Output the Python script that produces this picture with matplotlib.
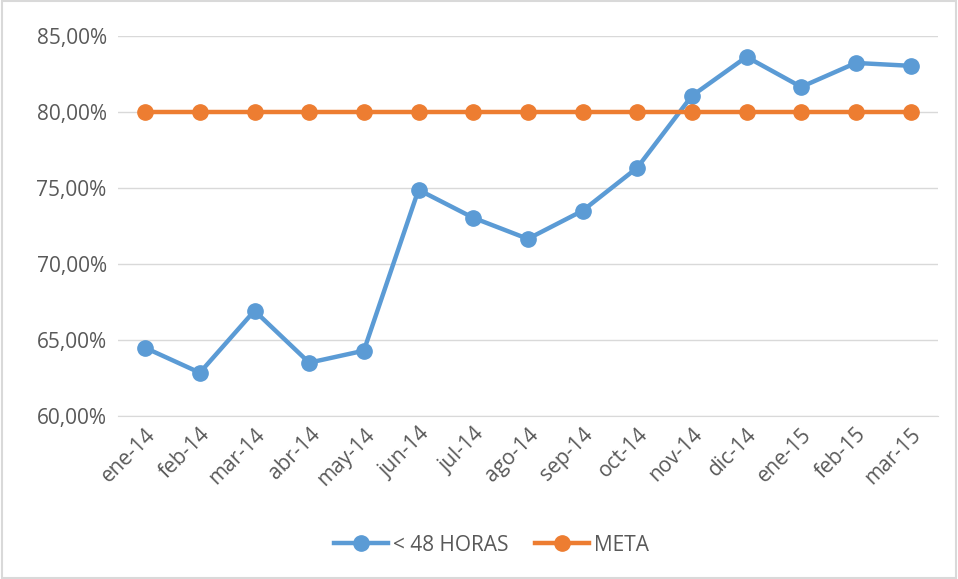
import numpy as np
import matplotlib.pyplot as plt
from matplotlib.ticker import FuncFormatter

plt.rcParams['font.family'] = ['Open Sans', 'DejaVu Sans']

# Datos
meses = ["ene-14", "feb-14", "mar-14", "abr-14", "may-14", "jun-14", "jul-14",
         "ago-14", "sep-14", "oct-14", "nov-14", "dic-14", "ene-15", "feb-15", "mar-15"]
menos_48h = [64.47, 62.83, 66.91, 63.49, 64.28, 74.87, 73.03, 71.64, 73.49,
             76.32, 81.05, 83.62, 81.64, 83.22, 83.03]
meta = [80.0] * len(meses)

azul = "#5b9bd5"
naranja = "#ed7d31"
gris_texto = "#595959"

fig = plt.figure(figsize=(9.58, 5.79), dpi=100)
ax = fig.add_axes([0.123, 0.282, 0.856, 0.656])

x = np.arange(len(meses))
ax.plot(x, menos_48h, color=azul, lw=3.2, marker="o", ms=11, label="< 48 HORAS", zorder=3)
ax.plot(x, meta, color=naranja, lw=3.2, marker="o", ms=11, label="META", zorder=3)

ax.set_xlim(-0.5, len(meses) - 0.5)
ax.set_ylim(60, 85)
ax.set_yticks(np.arange(60, 86, 5))
ax.yaxis.set_major_formatter(FuncFormatter(lambda v, p: f"{v:.2f}%".replace(".", ",")))
ax.set_xticks(x)
ax.set_xticklabels(meses, rotation=45, ha="right", rotation_mode="anchor")

ax.grid(axis="y", color="#d9d9d9", lw=1)
ax.set_axisbelow(True)
for s in ["top", "right", "left"]:
    ax.spines[s].set_visible(False)
ax.spines["bottom"].set_color("#d9d9d9")
ax.tick_params(length=0, labelsize=15, colors=gris_texto, pad=8)
ax.tick_params(axis="x", pad=6)

leg = fig.legend(loc="lower center", bbox_to_anchor=(0.513, 0.008), ncol=2, frameon=False,
                 fontsize=15, handlelength=2.6, columnspacing=1.3, handletextpad=0.2)
for t in leg.get_texts():
    t.set_color(gris_texto)

fig.patches.append(plt.Rectangle((0.002, 0.002), 0.996, 0.996, transform=fig.transFigure,
                                 fill=False, edgecolor="#d9d9d9", lw=1.5))

fig.savefig("out.png", dpi=100)
